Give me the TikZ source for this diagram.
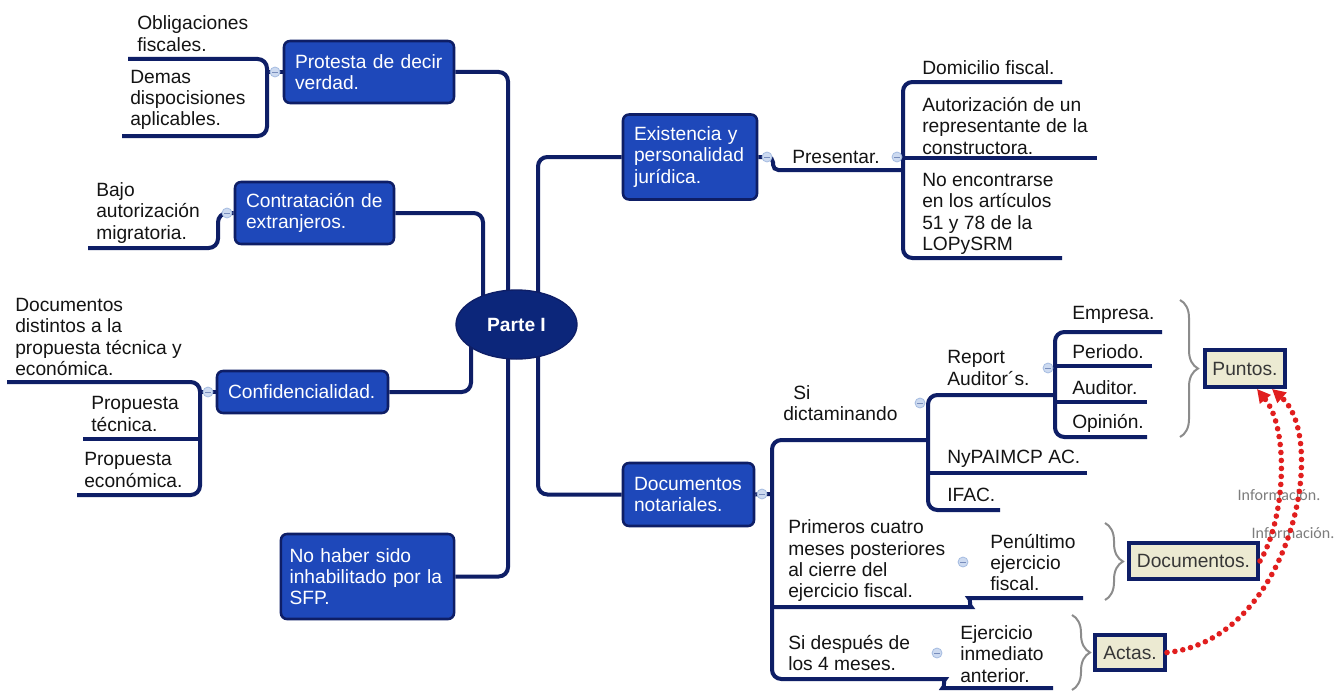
\documentclass[tikz,border=0pt]{standalone}
\usepackage{fontspec}
\setmainfont{Liberation Sans}
\newfontfamily\labelfont{Carlito}
\usetikzlibrary{arrows.meta,calc,decorations.pathreplacing,backgrounds,shapes.geometric}

\definecolor{navy}{RGB}{14,30,102}
\definecolor{topicblue}{RGB}{30,72,186}
\definecolor{rootblue}{RGB}{12,38,122}
\definecolor{beige}{RGB}{236,234,210}
\definecolor{notetext}{RGB}{55,55,55}
\definecolor{cfill}{RGB}{205,218,240}
\definecolor{cdraw}{RGB}{165,188,225}
\definecolor{bracegray}{RGB}{140,140,140}
\definecolor{infored}{RGB}{225,30,30}
\definecolor{labelgray}{RGB}{125,125,125}

\begin{document}
\begin{tikzpicture}[x=0.75pt,y=-0.75pt,
  font=\fontsize{14.4pt}{16pt}\selectfont,
  topic/.style={draw=navy, line width=1.9pt, fill=topicblue, rounded corners=4.5pt,
    text=white, align=left, inner xsep=8.25pt, inner ysep=0pt},
  root/.style={ellipse, draw=navy, line width=1pt, fill=rootblue, text=white,
    font=\fontsize{14.4pt}{16pt}\selectfont\bfseries,
    minimum width=90.75pt, minimum height=51.75pt, inner sep=0pt},
  conn/.style={draw=navy, line width=3pt, rounded corners=7pt},
  leaf/.style={anchor=west, align=left, inner sep=0pt, text=black!92},
  note/.style={draw=navy, line width=3pt, fill=beige, text=notetext, inner sep=0pt},
  collapse/.style={circle, fill=cfill, draw=cdraw, line width=0.6pt,
    minimum size=7.5pt, inner sep=0pt,
    path picture={\draw[cdraw!70!navy, line width=0.6pt]
      ([xshift=-2pt]path picture bounding box.center) --
      ([xshift=2pt]path picture bounding box.center);}},
  curly/.style={draw=bracegray, line width=1.5pt, decorate,
    decoration={brace, amplitude=13.5pt}},
  info/.style={-{Triangle[length=10pt,width=10pt]}, draw=infored,
    line width=4.2pt, dash pattern=on 0pt off 6pt, line cap=round},
  infolabel/.style={font=\labelfont\fontsize{12pt}{14pt}\selectfont,
    text=labelgray, inner sep=0pt}
]
\useasboundingbox (0,0) rectangle (1344,692);

% ---------- central topic and main topics ----------
\node[root] (root) at (516.5,324.5) {Parte I};

\node[topic, text width=111pt, minimum height=46.5pt] (prot) at (369,72) {Protesta de decir\\verdad.};
\node[topic, text width=102.75pt, minimum height=46.5pt] (cont) at (314.5,213) {Contratación de\\extranjeros.};
\node[topic, text width=111.75pt, minimum height=31.5pt] (conf) at (302.5,392) {Confidencialidad.};
\node[topic, text width=117pt, inner xsep=6.4pt, minimum height=63.75pt] (nohab) at (367.5,576.5) {No haber sido\\inhabilitado por la\\SFP.};
\node[topic, text width=84pt, minimum height=63.75pt] (exist) at (690,157) {Existencia y\\personalidad\\jurídica.};
\node[topic, text width=81.75pt, minimum height=47.25pt] (docn) at (688.5,494.5) {Documentos\\notariales.};

% ---------- left subtopics ----------
\node[leaf] (obl) at (137,33.5) {Obligaciones\\fiscales.};
\node[leaf] (dem) at (130,100) {Demas\\dispocisiones\\aplicables.};
\node[leaf] (bajo) at (96,213) {Bajo\\autorización\\migratoria.};
\node[leaf] (docd) at (15,337) {Documentos\\distintos a la\\propuesta técnica y\\económica.};
\node[leaf] (ptec) at (91,414) {Propuesta\\técnica.};
\node[leaf] (peco) at (84,470) {Propuesta\\económica.};

\coordinate (oblU) at (128,59);
\coordinate (demU) at (122,136);
\coordinate (bajoU) at (88,248);
\coordinate (docdU) at (7,382);
\coordinate (ptecU) at (83,439);
\coordinate (pecoU) at (77,495);

% ---------- right subtopics ----------
\node[leaf] (pres) at (792,157) {Presentar.};
\node[leaf] (dom) at (922,68) {Domicilio fiscal.};
\node[leaf] (aut) at (922,126) {Autorización de un\\representante de la\\constructora.};
\node[leaf] (lop) at (922,214) {No encontrarse\\en los artículos\\51 y 78 de la\\LOPySRM};

\coordinate (domU) at (1062,82);
\coordinate (autU) at (1097,158);
\coordinate (lopU) at (1062,258);

\node[leaf] (si) at (783,403) {\hspace*{7.5pt}Si\\dictaminando};
\node[leaf] (rep) at (947,368) {Report\\Auditor´s.};
\node[leaf] (emp) at (1072,315) {Empresa.};
\node[leaf] (per) at (1072,352) {Periodo.};
\node[leaf] (aud) at (1072,388) {Auditor.};
\node[leaf] (opi) at (1072,423) {Opinión.};
\node[leaf] (ny) at (947,459) {NyPAIMCP AC.};
\node[leaf] (ifac) at (947,495) {IFAC.};
\node[leaf] (prim) at (788,561) {Primeros cuatro\\meses posteriores\\al cierre del\\ejercicio fiscal.};
\node[leaf] (pen) at (990,562.5) {Penúltimo\\ejercicio\\fiscal.};
\node[leaf] (desp) at (788,653) {Si después de\\los 4 meses.};
\node[leaf] (ejer) at (960,654) {Ejercicio\\inmediato\\anterior.};

\coordinate (siU) at (928,440);
\coordinate (repU) at (1055,395);
\coordinate (nyU) at (1087,473);
\coordinate (ifacU) at (1000,510);
\coordinate (empU) at (1162,332);
\coordinate (perU) at (1152,366);
\coordinate (audU) at (1147,402);
\coordinate (opiU) at (1147,437);
\coordinate (primJ) at (772,607);
\coordinate (penU) at (1083,598);
\coordinate (ejerU) at (1053,688);

% ---------- connectors ----------
\begin{scope}[on background layer]
  \fill[white] (0,0) rectangle (1344,692);
  % central topic to main topics
  \draw[conn] (prot.east) -| ($(root.center)+(-8.5,0)$);
  \draw[conn] (cont.east) -| ($(root.center)+(-33.5,0)$);
  \draw[conn] (exist.west) -| ($(root.center)+(21.5,0)$);
  \draw[conn] (conf.east) -| ($(root.center)+(-45.5,0)$);
  \draw[conn] (nohab.east) -| ($(root.center)+(-8.5,0)$);
  \draw[conn] (docn.west) -| ($(root.center)+(21.5,0)$);
  % left branches
  \draw[conn] (oblU) -| (267,100) |- (demU);
  \draw[conn] (prot.west) -- (267,72);
  \draw[conn] (cont.west) -| (218,248) -- (bajoU);
  \draw[conn] (docdU) -| (200,440) |- (pecoU);
  \draw[conn] (ptecU) -- (200,439);
  \draw[conn] (conf.west) -- (200,392);
  % Existencia y personalidad juridica
  \draw[conn, rounded corners=4pt] (exist.east) -- (773,157) |- (903,170);
  \draw[conn] (domU) -| (903,200) |- (lopU);
  \draw[conn] (autU) -- (903,158);
  % Documentos notariales
  \draw[conn] (docn.east) -- (772,494);
  \draw[conn] (siU) -| (772,600) |- (936,679) to[out=0,in=180] (952,688) -- (ejerU);
  \draw[conn] (primJ) -- (962,607) to[out=0,in=180] (978,598) -- (penU);
  \draw[conn] (repU) -| (928,450) |- (ifacU);
  \draw[conn] (nyU) -- (928,473);
  \draw[conn] (empU) -| (1055,380) |- (opiU);
  \draw[conn] (perU) -- (1055,366);
  \draw[conn] (audU) -- (1055,402);
\end{scope}

% ---------- collapse markers ----------
\node[collapse] (c1) at (275,72) {};
\node[collapse] (c2) at (227,213) {};
\node[collapse] (c3) at (208,392) {};
\node[collapse] (c4) at (767,157) {};
\node[collapse] (c5) at (897,157) {};
\node[collapse] (c6) at (762,494) {};
\node[collapse] (c7) at (920,403) {};
\node[collapse] (c8) at (1048,368) {};
\node[collapse] (c9) at (963,562) {};
\node[collapse] (c10) at (937,653) {};

% ---------- summary boxes and braces ----------
\node[note, minimum width=60pt, minimum height=27.75pt] (punt) at (1245,368.5) {Puntos.};
\node[note, minimum width=96.75pt, minimum height=27pt] (docs) at (1193.5,561) {Documentos.};
\node[note, minimum width=52.5pt, minimum height=26.25pt] (actas) at (1130,652.5) {Actas.};

\draw[curly] (1180,300) -- (1180,437);
\draw[curly] (1105,523) -- (1105,600);
\draw[curly] (1072,615) -- (1072,690);

% ---------- relationship arrows ----------
\node[infolabel] (lab1) at (1279,495) {Información.};
\node[infolabel] (lab2) at (1293,533) {Información.};

\draw[info] (docs.east) .. controls (1285,520) and (1290,430) .. ($(punt.south)+(12,0)$);
\draw[info] (actas.east) .. controls (1290,640) and (1330,440) .. ($(punt.south)+(27,0)$);
\end{tikzpicture}
\end{document}
